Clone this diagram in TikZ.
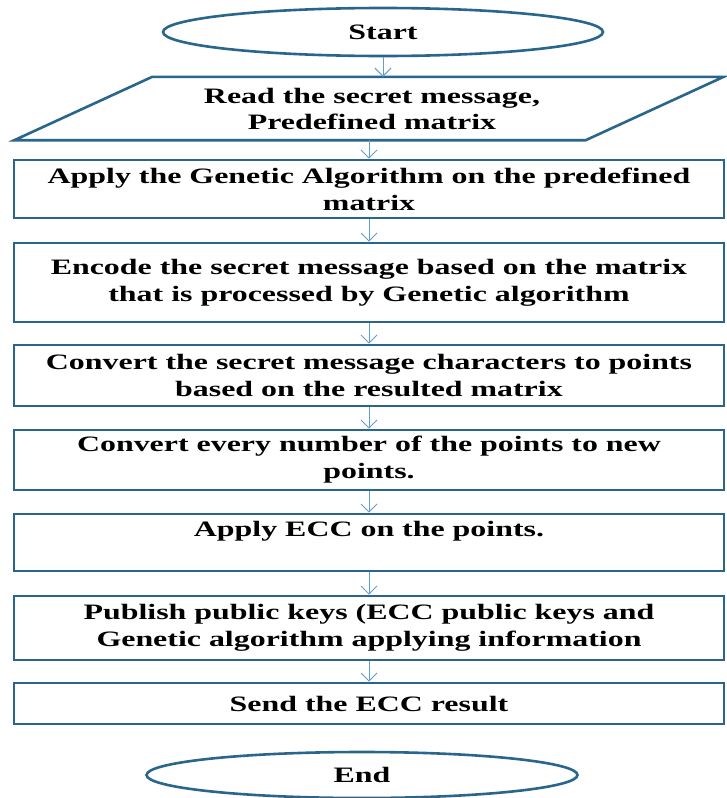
\documentclass[tikz,border=0pt]{standalone}
\usepackage{fontspec}
\setmainfont{Liberation Serif}[FakeStretch=1.45]
\definecolor{fcedge}{RGB}{42,102,140}
\definecolor{fcarrow}{RGB}{95,158,205}
\usetikzlibrary{arrows.meta,shapes.geometric}

\begin{document}
\begin{tikzpicture}[x=1pt,y=-1pt,
  flowbox/.style={draw=fcedge, line width=2.6pt, minimum width=710pt, inner sep=0pt, align=center, font=\fontsize{22}{27}\selectfont\bfseries},
  termin/.style={ellipse, draw=fcedge, line width=2.6pt, inner sep=0pt, font=\fontsize{22}{27}\selectfont\bfseries},
  flowarrow/.style={-{Straight Barb[length=8pt,width=16pt]}, fcarrow, line width=1pt}]
  \fill[white] (0,0) rectangle (726,798);
  \useasboundingbox (0,0) rectangle (726,798);

  % Terminals
  \node[termin, minimum width=440pt, minimum height=48pt] (start) at (383,32) {Start};
  \node[termin, minimum width=431pt, minimum height=46pt] (finish) at (362,775) {End};

  % Input (parallelogram)
  \node[minimum width=571pt, minimum height=63pt, inner sep=0pt, align=center, font=\fontsize{22}{26}\selectfont\bfseries] (read) at (372,108.5) {Read the secret message,\\Predefined matrix};
  \draw[fcedge, line width=2.6pt, line join=miter] ([xshift=66pt]read.north west) -- ([xshift=66pt]read.north east) -- ([xshift=-72pt]read.south east) -- ([xshift=-72pt]read.south west) -- cycle;

  % Process steps
  \node[flowbox, minimum height=58pt] (applyga) at (369,189) {Apply the Genetic Algorithm on the predefined\\matrix};
  \node[flowbox, minimum height=79pt] (encode) at (369,282.5) {Encode the secret message based on the matrix\\that is processed by Genetic algorithm};
  \node[flowbox, minimum height=61pt] (topoints) at (369,375.5) {Convert the secret message characters to points\\based on the resulted matrix};
  \node[flowbox, minimum height=60pt] (newpoints) at (369,460) {Convert every number of the points to new\\points.};
  \node[flowbox, minimum height=57pt] (applyecc) at (369,542.5) {Apply ECC on the points.\\\mbox{}};
  \node[flowbox, minimum height=64pt] (publish) at (369,628) {Publish public keys (ECC public keys and\\Genetic algorithm applying information};
  \node[flowbox, minimum height=41pt] (send) at (369,703.5) {Send the ECC result};

  % Connectors
  \draw[flowarrow] (start.south) -- (start.south |- read.north);
  \draw[flowarrow] (read.south -| applyga.north) -- (applyga.north);
  \foreach \a/\b in {applyga/encode, encode/topoints, topoints/newpoints, newpoints/applyecc, applyecc/publish, publish/send}
    \draw[flowarrow] (\a.south) -- (\b.north);
\end{tikzpicture}
\end{document}
